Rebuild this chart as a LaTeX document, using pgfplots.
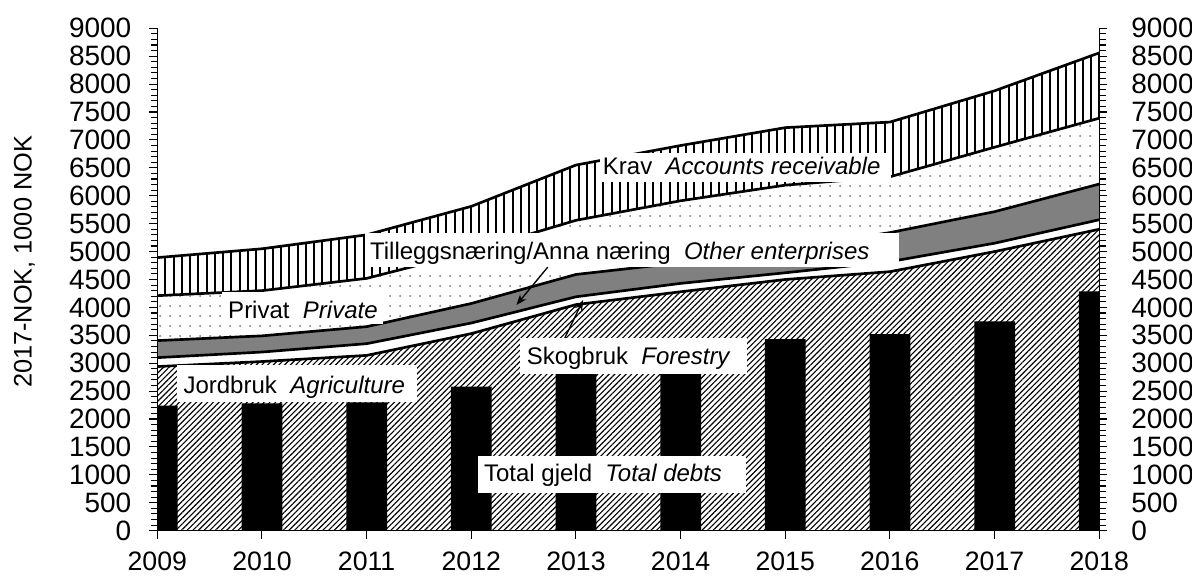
\documentclass[border=0pt]{standalone}
\usepackage{fontspec}
\setmainfont{Liberation Sans}
\usepackage{pgfplots}
\usepackage{pgfplotstable}
\pgfplotsset{compat=1.18}
\usetikzlibrary{patterns.meta, arrows.meta}

\pgfplotstableread{
year agri forest other priv krav debt
2009 2940 3100 3405 4210 4892 2240
2010 3030 3200 3490 4300 5050 2280
2011 3140 3350 3655 4520 5300 2300
2012 3530 3720 4070 5000 5810 2580
2013 4050 4190 4590 5560 6550 2850
2014 4280 4430 4800 5910 6900 3100
2015 4500 4620 5050 6190 7220 3430
2016 4640 4820 5340 6340 7320 3520
2017 5000 5150 5715 6870 7880 3750
2018 5400 5570 6210 7390 8560 4285
}\data

\newcommand\lab{\fontsize{18}{20}\selectfont}
\newcommand\tck{\fontsize{21}{23}\selectfont}
\newcommand\xtck{\fontsize{20}{22}\selectfont}
\newcommand\ylab{\fontsize{19}{21}\selectfont}

\begin{document}
\begin{tikzpicture}
\begin{axis}[name=ax, scale only axis, width=706.5pt, height=376.8pt,
  xmin=2009, xmax=2018, ymin=0, ymax=9000,
  axis x line*=bottom, axis y line*=left,
  xtick={2009,...,2018}, ytick={0,500,...,9000}, minor y tick num=4,
  tick align=outside, major tick length=6pt, minor tick length=5pt,
  axis line style={line width=1pt}, tick style={line width=0.8pt, black},
  tick label style={font=\tck}, /pgf/number format/assume math mode=true,
  /pgf/number format/1000 sep={},
  yticklabel style={xshift=-10pt},
  xticklabel style={font=\xtck, anchor=north, inner ysep=0pt, yshift=-9.5pt},
  ylabel={2017-NOK, 1000 NOK}, ylabel style={font=\ylab, at={(axis description cs:-0.1412,0.535)}, anchor=center},
  axis on top]
\addplot[fill=white, draw=none] table[x=year,y=krav]{\data} \closedcycle;
\addplot[pattern={Lines[angle=90,distance=6.2pt,line width=1.5pt]}, draw=none] table[x=year,y=krav]{\data} \closedcycle;
\addplot[fill=white, draw=none] table[x=year,y=priv]{\data} \closedcycle;
\addplot[pattern={Dots[distance=7.5pt,radius=0.75pt]}, pattern color=black!55, draw=none] table[x=year,y=priv]{\data} \closedcycle;
\addplot[fill=gray, draw=none] table[x=year,y=other]{\data} \closedcycle;
\addplot[fill=white, draw=none] table[x=year,y=forest]{\data} \closedcycle;
\addplot[fill=white, draw=none] table[x=year,y=agri]{\data} \closedcycle;
\addplot[pattern={Lines[angle=45,distance=3pt,line width=0.85pt]}, draw=none] table[x=year,y=agri]{\data} \closedcycle;
\addplot[ybar, bar width=0.39, bar shift=0pt, fill=black, draw=none] table[x=year,y=debt]{\data};
\addplot[black, line width=2pt] table[x=year,y=agri]{\data};
\addplot[black, line width=2pt] table[x=year,y=forest]{\data};
\addplot[black, line width=2pt] table[x=year,y=other]{\data};
\addplot[black, line width=2pt] table[x=year,y=priv]{\data};
\addplot[black, line width=2pt] table[x=year,y=krav]{\data};

\fill[white] (axis cs:2013.226,6246) rectangle (axis cs:2016.014,6766);
\node[anchor=base west, font=\lab, inner sep=0pt] at (axis cs:2013.255,6387) {Krav\ \ \textit{Accounts receivable}};
\fill[white] (axis cs:2010.983,4721) rectangle (axis cs:2016.09,5330);
\node[anchor=base west, font=\lab, inner sep=0pt] at (axis cs:2011.03,4862) {Tilleggsnæring/Anna næring\ \ \textit{Other enterprises}};
\fill[white] (axis cs:2009.62,3702) rectangle (axis cs:2011.155,4276);
\node[anchor=base west, font=\lab, inner sep=0pt] at (axis cs:2009.675,3805) {Privat\ \ \textit{Private}};
\fill[white] (axis cs:2009.188,2306) rectangle (axis cs:2011.48,2968);
\node[anchor=base west, font=\lab, inner sep=0pt] at (axis cs:2009.248,2461) {Jordbruk\ \ \textit{Agriculture}};
\fill[white] (axis cs:2012.463,2808) rectangle (axis cs:2014.63,3452);
\node[anchor=base west, font=\lab, inner sep=0pt] at (axis cs:2012.527,2968) {Skogbruk\ \ \textit{Forestry}};
\fill[white] (axis cs:2012.06,675) rectangle (axis cs:2014.62,1338);
\node[anchor=base west, font=\lab, inner sep=0pt] at (axis cs:2012.119,878) {Total gjeld\ \ \textit{Total debts}};
\draw[-{Stealth[length=8pt,width=6pt]}, line width=1pt] (axis cs:2012.73,4721) -- (axis cs:2012.431,4043);
\draw[-{Stealth[length=8pt,width=6pt]}, line width=1pt] (axis cs:2012.893,3452) -- (axis cs:2013.068,4130);
\end{axis}
\begin{axis}[scale only axis, width=706.5pt, height=376.8pt,
  xmin=2009, xmax=2018, ymin=0, ymax=9000,
  axis x line=none, axis y line*=right,
  ytick={0,500,...,9000}, minor y tick num=4,
  tick align=outside, major tick length=6pt, minor tick length=5pt,
  axis line style={line width=1pt}, tick style={line width=0.8pt, black},
  tick label style={font=\tck}, /pgf/number format/assume math mode=true,
  /pgf/number format/1000 sep={}, yticklabel style={xshift=14.5pt}]
\addplot[draw=none] coordinates {(2009,0)};
\end{axis}
\pgfresetboundingbox
\path[use as bounding box] ([shift={(-118pt,-34pt)}]ax.south west) rectangle ([shift={(776pt,398pt)}]ax.south west);
\end{tikzpicture}
\end{document}
